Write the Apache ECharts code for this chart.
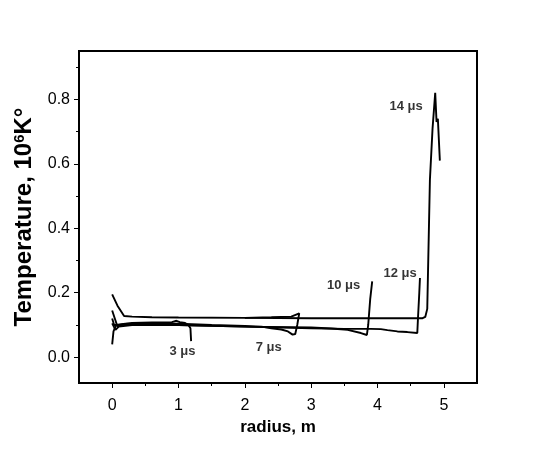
<!DOCTYPE html>
<html>
<head>
<meta charset="utf-8">
<script src="https://cdn.jsdelivr.net/npm/echarts@6/dist/echarts.min.js"></script>
<style>
  html, body { margin: 0; padding: 0; background: #fff; }
  #chart { width: 541px; height: 450px; }
</style>
</head>
<body>
<div id="chart"></div>
<script>
// temperature profiles, [radius m, temperature 10^6 K]
const t3 = [[0, 0.12], [0.03, 0.1], [0.1, 0.1], [0.3, 0.106], [0.6, 0.108], [0.9, 0.109],
  [0.97, 0.113], [1.02, 0.109], [1.1, 0.106], [1.15, 0.1], [1.18, 0.09], [1.19, 0.05]];
const t7 = [[0, 0.04], [0.02, 0.08], [0.06, 0.1], [0.2, 0.104], [0.6, 0.105], [1, 0.104],
  [1.5, 0.1], [2, 0.097], [2.25, 0.095], [2.4, 0.09], [2.55, 0.086], [2.65, 0.08], [2.72, 0.07],
  [2.76, 0.072], [2.79, 0.1], [2.82, 0.136], [2.7, 0.126], [2.4, 0.124], [2.0, 0.122]];
const t10 = [[0, 0.105], [0.05, 0.085], [0.1, 0.095], [0.3, 0.1], [1, 0.1], [2, 0.095],
  [3, 0.092], [3.3, 0.089], [3.55, 0.085], [3.75, 0.075], [3.84, 0.069], [3.86, 0.1],
  [3.89, 0.18], [3.92, 0.235]];
const t12 = [[0, 0.145], [0.04, 0.12], [0.08, 0.095], [0.15, 0.1], [0.3, 0.103], [1, 0.1],
  [2, 0.095], [3, 0.09], [3.5, 0.088], [3.9, 0.088], [4.05, 0.087], [4.15, 0.084], [4.3, 0.08],
  [4.45, 0.078], [4.6, 0.075], [4.61, 0.12], [4.63, 0.2], [4.64, 0.246]];
const t14 = [[0, 0.195], [0.08, 0.16], [0.18, 0.128], [0.3, 0.126], [0.6, 0.124], [1, 0.123],
  [2, 0.122], [3, 0.121], [4, 0.121], [4.68, 0.121], [4.72, 0.125], [4.75, 0.15], [4.79, 0.55],
  [4.83, 0.71], [4.87, 0.82], [4.89, 0.73], [4.91, 0.74], [4.94, 0.61]];

const noteText = ['3 μs', '7 μs', '10 μs', '12 μs', '14 μs'];
const notePos = [[1.06, 0.018], [2.36, 0.03], [3.49, 0.224], [4.34, 0.259], [4.43, 0.777]];

const xMajor = [0, 1, 2, 3, 4, 5];
const xMinor = [0.5, 1.5, 2.5, 3.5, 4.5];
const yMajor = [0, 0.2, 0.4, 0.6, 0.8];
const yMinor = [0.1, 0.3, 0.5, 0.7, 0.9];

const chart = echarts.init(document.getElementById('chart'));

const font = 'Liberation Sans, Arial, sans-serif';
const xRange = { min: -0.5, max: 5.5 };
const yRange = { min: -0.08, max: 0.95 };

function curve(data) {
  return {
    type: 'line', data: data, showSymbol: false, symbol: 'none',
    lineStyle: { color: '#000', width: 1.9 }, silent: true
  };
}

const option = {
  animation: false,
  backgroundColor: '#fff',
  grid: {
    left: 79, top: 51, right: 64, bottom: 67,
    show: true, borderColor: '#000', borderWidth: 2
  },
  xAxis: [
    {
      type: 'value', ...xRange, position: 'bottom',
      name: 'radius, m', nameLocation: 'middle', nameGap: 31,
      nameTextStyle: { fontFamily: font, fontSize: 17, fontWeight: 'bold', color: '#000' },
      axisLine: { show: true, onZero: false, lineStyle: { color: '#000', width: 2 } },
      axisTick: { show: true, inside: false, length: 5, customValues: xMajor, lineStyle: { color: '#000', width: 1 } },
      axisLabel: { customValues: xMajor, margin: 15, fontFamily: font, fontSize: 16, color: '#000' },
      splitLine: { show: false }
    },
    {
      type: 'value', ...xRange, position: 'bottom',
      axisLine: { show: false, onZero: false },
      axisTick: { show: true, inside: false, length: 3, customValues: xMinor, lineStyle: { color: '#000', width: 1 } },
      axisLabel: { show: false },
      splitLine: { show: false }
    }
  ],
  yAxis: [
    {
      type: 'value', ...yRange, position: 'left',
      name: '{t|Temperature, 10}{s|6}{t|K°}', nameLocation: 'middle', nameGap: 28,
      nameTextStyle: {
        rich: {
          t: { fontFamily: font, fontSize: 24, fontWeight: 'bold', color: '#000', verticalAlign: 'bottom' },
          s: { fontFamily: font, fontSize: 15, fontWeight: 'bold', color: '#000', verticalAlign: 'top' }
        }
      },
      axisLine: { show: true, onZero: false, lineStyle: { color: '#000', width: 2 } },
      axisTick: { show: true, inside: false, length: 5, customValues: yMajor, lineStyle: { color: '#000', width: 1 } },
      axisLabel: {
        customValues: yMajor, margin: 9, fontFamily: font, fontSize: 16, color: '#000',
        formatter: v => v.toFixed(1)
      },
      splitLine: { show: false }
    },
    {
      type: 'value', ...yRange, position: 'left',
      axisLine: { show: false, onZero: false },
      axisTick: { show: true, inside: false, length: 3, customValues: yMinor, lineStyle: { color: '#000', width: 1 } },
      axisLabel: { show: false },
      splitLine: { show: false }
    }
  ],
  series: [
    curve(t3), curve(t7), curve(t10), curve(t12), curve(t14),
    {
      type: 'scatter', symbolSize: 0, silent: true,
      data: notePos.map((p, i) => ({ value: p, name: noteText[i] })),
      label: {
        show: true, position: 'inside', formatter: p => p.name,
        fontFamily: font, fontSize: 13, fontWeight: 'bold', color: '#000'
      }
    }
  ]
};

chart.setOption(option);
</script>
</body>
</html>
